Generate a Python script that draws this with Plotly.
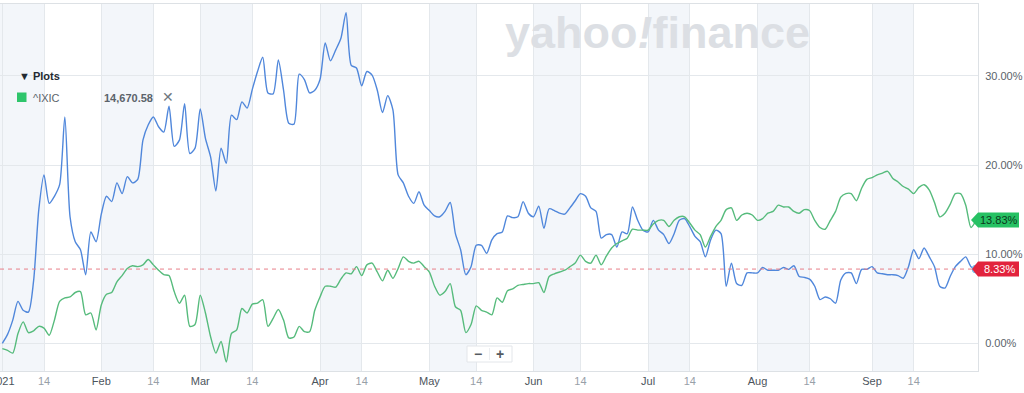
import pandas as pd
import plotly.graph_objects as go

# ---------------- data ----------------
holidays = ["2021-01-18", "2021-02-15", "2021-04-02", "2021-05-31", "2021-07-05", "2021-09-06"]
trading_days = [d.strftime("%Y-%m-%d") for d in pd.bdate_range("2021-01-04", "2021-09-30")
                if d.strftime("%Y-%m-%d") not in holidays]

# main symbol, % change since start
stock_pct = [
    0.0, 1.0, 2.6, 4.7, 3.7, 3.5, 7.0, 15.0, 18.9, 15.7,
    16.5, 17.8, 25.4, 14.2, 11.4, 10.5, 7.7, 12.5, 11.4, 14.5,
    16.5, 15.9, 18.0, 16.8, 18.7, 18.0, 18.4, 22.8, 24.5, 25.4,
    24.3, 23.7, 26.6, 22.1, 22.8, 26.9, 21.3, 21.9, 26.3, 23.0,
    20.9, 17.1, 21.9, 20.2, 25.6, 25.1, 27.1, 26.4, 28.5, 30.5,
    32.1, 28.1, 28.0, 31.8, 28.4, 24.7, 24.6, 30.2, 29.6, 28.1,
    28.4, 29.6, 33.7, 31.7, 32.9, 34.2, 37.1, 31.2, 30.9, 28.9,
    30.5, 30.1, 28.4, 25.9, 27.8, 26.2, 18.9, 18.0, 16.5, 15.7,
    17.0, 15.5, 14.9, 14.3, 14.2, 14.8, 15.8, 12.3, 10.5, 7.7,
    8.6, 11.0, 11.0, 10.1, 11.6, 12.3, 12.5, 14.3, 14.1, 14.2,
    15.9, 14.6, 14.2, 15.4, 12.9, 15.1, 14.9, 14.6, 14.5, 15.2,
    16.0, 16.8, 16.5, 15.2, 14.8, 11.8, 12.2, 12.2, 10.8, 12.5,
    12.3, 15.3, 13.8, 12.7, 12.5, 13.8, 12.7, 12.2, 11.2, 12.3,
    13.8, 14.0, 13.1, 12.0, 11.4, 9.7, 11.6, 12.7, 12.3, 6.4,
    9.0, 6.7, 6.5, 7.9, 7.9, 7.9, 8.5, 8.2, 8.2, 8.2,
    8.5, 8.3, 8.7, 7.5, 7.4, 7.2, 6.4, 4.9, 5.2, 5.0,
    4.5, 7.1, 7.9, 7.9, 6.7, 8.3, 8.3, 8.6, 7.9, 7.8,
    7.7, 7.7, 7.6, 7.3, 8.6, 10.5, 9.5, 10.7, 9.7, 8.6,
    6.4, 6.2, 7.5, 8.6, 9.2, 9.7, 8.6, 8.33,
]

# ^IXIC, % change since start
ixic_pct = [
    -0.6, -0.8, -1.1, 1.1, 2.4, 1.2, 1.4, 1.9, 1.7, 0.9,
    2.6, 4.7, 5.1, 5.2, 5.7, 5.8, 3.2, 3.4, 1.5, 4.3,
    5.5, 5.7, 6.9, 7.6, 8.4, 8.7, 8.6, 8.8, 9.4, 8.8,
    8.2, 7.7, 7.6, 5.8, 4.5, 5.4, 1.9, 2.1, 5.4, 3.4,
    0.7, -1.1, 0.2, -2.1, 1.1, 1.5, 3.9, 3.4, 4.4, 4.5,
    4.9, 1.9, 2.8, 3.8, 2.6, 0.6, 0.7, 1.9, 1.3, 1.3,
    3.7, 5.2, 6.4, 6.4, 6.3, 7.2, 7.9, 7.8, 8.6, 7.6,
    8.8, 9.0, 8.0, 7.0, 8.2, 7.3, 8.4, 9.7, 9.2, 9.0,
    9.2, 8.6, 8.0, 6.4, 5.4, 5.8, 6.7, 4.1, 3.7, 1.2,
    2.1, 4.2, 3.7, 3.5, 3.2, 5.1, 4.6, 5.9, 6.1, 6.5,
    6.6, 6.7, 6.7, 6.8, 5.7, 7.5, 7.8, 8.0, 8.2, 8.6,
    9.0, 9.9, 9.2, 9.0, 9.9, 8.8, 9.8, 10.7, 11.2, 11.5,
    11.8, 12.8, 12.7, 12.7, 12.7, 13.4, 13.8, 13.8, 13.1, 13.8,
    14.2, 14.2, 13.5, 12.7, 12.2, 10.8, 12.0, 13.1, 13.8, 15.0,
    15.2, 13.8, 14.4, 14.6, 14.4, 13.8, 14.0, 14.6, 14.8, 15.5,
    15.3, 15.3, 14.8, 14.6, 15.0, 14.9, 13.8, 13.0, 12.8, 13.8,
    14.8, 16.4, 16.8, 16.8, 16.0, 17.4, 18.4, 18.6, 18.9, 19.1,
    19.3, 18.5, 18.1, 17.6, 17.3, 16.8, 17.5, 17.8, 17.2, 15.8,
    14.2, 14.6, 15.6, 16.8, 16.8, 15.5, 13.0, 13.83,
]

tick_anchor_dates = ["2021-01-04", "2021-01-14", "2021-02-01", "2021-02-14", "2021-03-01", "2021-03-14",
                     "2021-04-01", "2021-04-14", "2021-05-01", "2021-05-14", "2021-06-01", "2021-06-14",
                     "2021-07-01", "2021-07-14", "2021-08-01", "2021-08-14", "2021-09-01", "2021-09-14"]
tick_labels = ["2021", "14", "Feb", "14", "Mar", "14", "Apr", "14", "May", "14",
               "Jun", "14", "Jul", "14", "Aug", "14", "Sep", "14"]

y_tick_vals = [0, 10, 20, 30]
y_tick_text = ["0.00%", "10.00%", "20.00%", "30.00%"]

legend_symbol = "^IXIC"
legend_price = "14,670.58"
stock_last = 8.33
ixic_last = 13.83
ref_line = 8.33

assert len(trading_days) == len(stock_pct) == len(ixic_pct) == 188

# ---------------- helpers ----------------
W, H = 1024, 393
ML, MR, MT, MB = 0, 46, 4, 22
PW, PH = W - ML - MR, H - MT - MB
YMIN, YMAX = -3.11, 38.08


def first_trading_on_or_after(d):
    for t in trading_days:
        if t >= d:
            return t
    return trading_days[-1]


def px(x):  # pixel x -> paper
    return (x - ML) / PW


def py(y):  # pixel y -> paper
    return (H - MB - y) / PH


def vy(v):  # value -> paper
    return (v - YMIN) / (YMAX - YMIN)


tick_vals = [first_trading_on_or_after(d) for d in tick_anchor_dates]
tick_text = []
for lab in tick_labels:
    if lab == "14":
        tick_text.append('<span style="color:#98a0a8">14</span>')
    else:
        tick_text.append(lab)

FONT = "Liberation Sans, Arial, Helvetica, sans-serif"

fig = go.Figure()

fig.add_trace(go.Scatter(
    x=trading_days, y=stock_pct, mode="lines",
    line=dict(color="#5087db", width=1.4, shape="spline", smoothing=0.7),
    hoverinfo="skip", showlegend=False))
fig.add_trace(go.Scatter(
    x=trading_days, y=ixic_pct, mode="lines",
    line=dict(color="#56bb7c", width=1.4, shape="spline", smoothing=0.7),
    hoverinfo="skip", showlegend=False))
fig.add_trace(go.Scatter(
    x=[trading_days[-1]], y=[stock_pct[-1]], mode="markers",
    marker=dict(color="#8fd0f4", size=8, line=dict(color="#6cb6e8", width=1)),
    cliponaxis=False, hoverinfo="skip", showlegend=False))

shapes = []
# shaded bands from month start to the 14th
for k in range(0, len(tick_vals), 2):
    x0 = -1 if k == 0 else tick_vals[k]
    shapes.append(dict(type="rect", xref="x", yref="paper", x0=x0, x1=tick_vals[k + 1],
                       y0=0, y1=1, fillcolor="#f3f6fa", line=dict(width=0), layer="below"))
# reference dashed line
shapes.append(dict(type="line", xref="paper", yref="y", x0=0, x1=1, y0=ref_line, y1=ref_line,
                   line=dict(color="#e87f89", width=1, dash="4px,4px"), layer="above"))
# legend square
shapes.append(dict(type="rect", xref="paper", yref="paper", x0=px(17), x1=px(26.5),
                   y0=py(102), y1=py(92.5), fillcolor="#2ec56b", line=dict(width=0)))
# zoom buttons
shapes.append(dict(type="rect", xref="paper", yref="paper", x0=px(467), x1=px(512),
                   y0=py(362), y1=py(346), fillcolor="white", line=dict(color="#e3e6ea", width=1)))
shapes.append(dict(type="line", xref="paper", yref="paper", x0=px(489.5), x1=px(489.5),
                   y0=py(360), y1=py(348), line=dict(color="#eceef1", width=1)))


def tag_path(v, color, tip=971, left=978, right=1019, half=7.5):
    yc = vy(v)
    hh = half / PH
    d = (f"M {px(tip)} {yc} L {px(left)} {yc + hh} L {px(right)} {yc + hh} "
         f"L {px(right)} {yc - hh} L {px(left)} {yc - hh} Z")
    return dict(type="path", xref="paper", yref="paper", path=d, fillcolor=color,
                line=dict(width=0), layer="above")


shapes.append(tag_path(ixic_last, "#26c163"))
shapes.append(tag_path(stock_last, "#e2233d", tip=972))

annotations = [
    dict(text="yahoo<i>!</i>finance", x=px(657), y=py(32), xref="paper", yref="paper",
         showarrow=False, xanchor="center", yanchor="middle",
         font=dict(family=FONT, size=45, color="#dcdfe4", weight="bold")),
    dict(text="▼ Plots", x=px(17), y=py(76), xref="paper", yref="paper", showarrow=False,
         xanchor="left", yanchor="middle", font=dict(family=FONT, size=11, color="#232a31", weight="bold")),
    dict(text=legend_symbol, x=px(31), y=py(97.5), xref="paper", yref="paper", showarrow=False,
         xanchor="left", yanchor="middle", font=dict(family=FONT, size=11, color="#5b636a")),
    dict(text=legend_price, x=px(155), y=py(97.5), xref="paper", yref="paper", showarrow=False,
         xanchor="right", yanchor="middle", font=dict(family=FONT, size=11, color="#5b636a", weight="bold")),
    dict(text="✕", x=px(168), y=py(97), xref="paper", yref="paper", showarrow=False,
         xanchor="center", yanchor="middle",
         font=dict(family="DejaVu Sans", size=14, color="#6f7780", weight="bold")),
    dict(text="−", x=px(478), y=py(353.5), xref="paper", yref="paper", showarrow=False,
         xanchor="center", yanchor="middle", font=dict(family=FONT, size=14, color="#555b61", weight="bold")),
    dict(text="+", x=px(500), y=py(353.5), xref="paper", yref="paper", showarrow=False,
         xanchor="center", yanchor="middle", font=dict(family=FONT, size=14, color="#555b61", weight="bold")),
    dict(text=f"{ixic_last:.2f}%", x=px(999), y=vy(ixic_last), xref="paper", yref="paper", showarrow=False,
         xanchor="center", yanchor="middle", font=dict(family=FONT, size=11, color="#0b3a1c")),
    dict(text=f"{stock_last:.2f}%", x=px(999), y=vy(stock_last), xref="paper", yref="paper", showarrow=False,
         xanchor="center", yanchor="middle", font=dict(family=FONT, size=11, color="white")),
]

fig.update_layout(
    width=W, height=H,
    margin=dict(l=ML, r=MR, t=MT, b=MB, pad=0, autoexpand=False),
    paper_bgcolor="white", plot_bgcolor="white",
    shapes=shapes, annotations=annotations, showlegend=False,
    xaxis=dict(type="category", categoryorder="array", categoryarray=trading_days,
               range=[-0.45, 187.35], tickmode="array", tickvals=tick_vals, ticktext=tick_text,
               showgrid=True, gridcolor="#e4e8ec", gridwidth=1, ticks="", showline=True,
               linecolor="#dde1e5", mirror=True, zeroline=False, automargin=False,
               tickfont=dict(family=FONT, size=11, color="#4c545c")),
    yaxis=dict(side="right", range=[YMIN, YMAX], tickmode="array", tickvals=y_tick_vals,
               ticktext=y_tick_text, showgrid=True, gridcolor="#e4e8ec", zeroline=False,
               showline=True, linecolor="#dde1e5", ticks="", ticklabelstandoff=4, automargin=False,
               tickfont=dict(family=FONT, size=11, color="#5b636a")),
)

fig.write_html("out.html", config={"displayModeBar": False},
               post_script="document.body.style.margin='0';document.body.style.overflow='hidden';")
